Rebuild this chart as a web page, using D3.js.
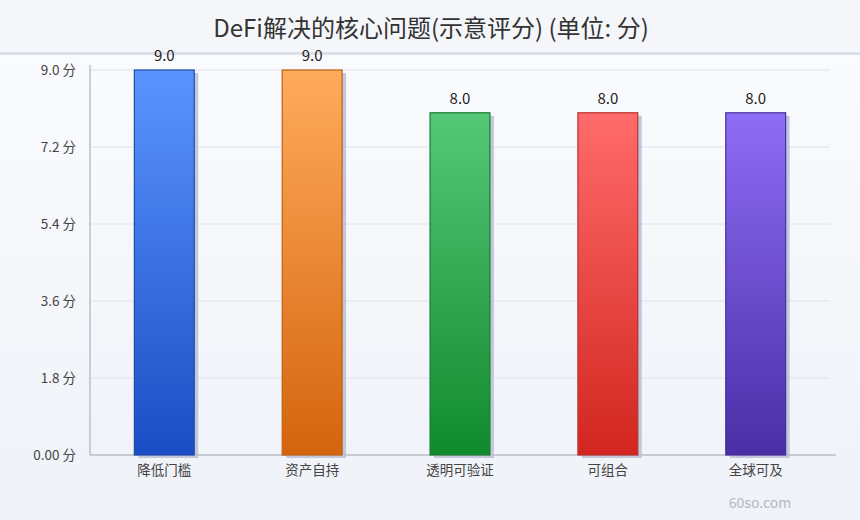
<!DOCTYPE html>
<html><head><meta charset="utf-8">
<script src="https://cdn.jsdelivr.net/npm/d3@7"></script>
<style>
html,body{margin:0;padding:0;}
body{width:860px;height:520px;overflow:hidden;}
text{font-family:"Noto Sans CJK SC","Noto Sans",sans-serif;}
</style></head><body>
<svg id="chart" width="860" height="520"></svg>
<script>
const categories = ["降低门槛","资产自持","透明可验证","可组合","全球可及"];
const values = [9.0, 9.0, 8.0, 8.0, 8.0];
const tickValues = [0, 1.8, 3.6, 5.4, 7.2, 9.0];
const tickLabels = ["0.00 分","1.8 分","3.6 分","5.4 分","7.2 分","9.0 分"];
const colorsTop = ["#5b94ff","#ffab5c","#55c878","#ff6b6b","#8d6df5"];
const colorsBottom = ["#1a4ec4","#d4640e","#118a2d","#d2261f","#4a2ea6"];
const colorsStroke = ["#2448a8","#c0600f","#1a7a35","#b83030","#4a2ea0"];

const svg = d3.select("#chart");
const W = 860, H = 520;
const m = {left: 90, right: 30, top: 70, bottom: 65};

const defs = svg.append("defs");
const bg = defs.append("linearGradient").attr("id","bg").attr("x1",0).attr("y1",0).attr("x2",0).attr("y2",1);
bg.append("stop").attr("offset","0%").attr("stop-color","#fbfcfe");
bg.append("stop").attr("offset","100%").attr("stop-color","#eff2f8");
svg.append("rect").attr("width",W).attr("height",H).attr("fill","url(#bg)");
svg.append("rect").attr("width",W).attr("height",53).attr("fill","#f5f6fa");
svg.append("rect").attr("x",0).attr("y",52).attr("width",W).attr("height",3).attr("fill","#dde0e9");

categories.forEach((c,i)=>{
  const g = defs.append("linearGradient").attr("id","g"+i).attr("x1",0).attr("y1",0).attr("x2",0).attr("y2",1);
  g.append("stop").attr("offset","0%").attr("stop-color",colorsTop[i]);
  g.append("stop").attr("offset","100%").attr("stop-color",colorsBottom[i]);
});

const x = d3.scaleBand().domain(categories).range([m.left, W - m.right]).paddingInner(0.595).paddingOuter(0.3);
const y = d3.scaleLinear().domain([0, 9]).range([H - m.bottom, m.top]);

// gridlines
svg.append("g").selectAll("line").data(tickValues.slice(1)).join("line")
  .attr("x1", m.left).attr("x2", W - m.right)
  .attr("y1", d=>y(d)).attr("y2", d=>y(d))
  .attr("stroke","#dfe2ea").attr("stroke-width",1);

// y axis
const yAxis = d3.axisLeft(y).tickValues(tickValues).tickSize(0).tickPadding(14)
  .tickFormat((d,i)=>tickLabels[i]);
const ya = svg.append("g").attr("transform",`translate(${m.left},0)`).call(yAxis);
ya.select(".domain").attr("stroke","#a0a4b0").attr("d",`M0,${m.top-5}V${H-m.bottom}`);
ya.selectAll("text").attr("font-size",13.5).attr("fill","#444");

// x axis
const xAxis = d3.axisBottom(x).tickSize(0).tickPadding(10);
const xa = svg.append("g").attr("transform",`translate(0,${H-m.bottom})`).call(xAxis);
xa.select(".domain").attr("stroke","#a0a4b0").attr("d",`M${m.left},0H${W-24}`);
xa.selectAll("text").attr("font-size",13.5).attr("fill","#444");

// shadows
svg.append("g").selectAll("rect").data(values).join("rect")
  .attr("x",(d,i)=>x(categories[i])+4).attr("y",d=>y(d)+3)
  .attr("width",x.bandwidth()).attr("height",d=>y(0)-y(d))
  .attr("fill","#b8bfd4").attr("opacity",0.85);

// bars
svg.append("g").selectAll("rect").data(values).join("rect")
  .attr("x",(d,i)=>x(categories[i])).attr("y",d=>y(d))
  .attr("width",x.bandwidth()).attr("height",d=>y(0)-y(d))
  .attr("fill",(d,i)=>`url(#g${i})`)
  .attr("stroke",(d,i)=>colorsStroke[i]).attr("stroke-width",1.2);

// value labels
svg.append("g").selectAll("text").data(values).join("text")
  .attr("x",(d,i)=>x(categories[i])+x.bandwidth()/2).attr("y",d=>y(d)-9)
  .attr("text-anchor","middle").attr("font-size",15).attr("fill","#222")
  .text(d=>d.toFixed(1));

// title
svg.append("text").attr("x",431).attr("y",37).attr("text-anchor","middle")
  .attr("font-size",24).attr("fill","#333").text("DeFi解决的核心问题(示意评分) (单位: 分)");

// watermark
svg.append("text").attr("x",760).attr("y",508).attr("text-anchor","middle")
  .attr("font-size",14).attr("fill","#b4b8c4").text("60so.com");
</script>
</body></html>
